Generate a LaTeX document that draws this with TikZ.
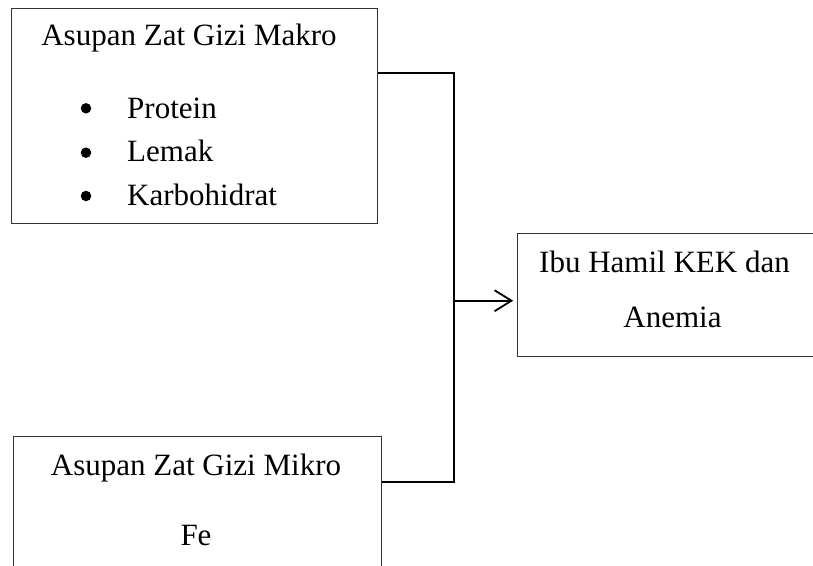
\documentclass[tikz,border=0pt]{standalone}
\usepackage{fontspec}
\setmainfont{Liberation Serif}
\usetikzlibrary{arrows.meta}
\begin{document}
\begin{tikzpicture}[x=1pt,y=-1pt,
  box/.style={draw=black!80,line width=1.1pt,inner sep=0pt,anchor=north west},
  lbl/.style={inner sep=0pt,anchor=base,font=\fontsize{31}{37}\selectfont},
  lblw/.style={inner sep=0pt,anchor=base west,font=\fontsize{31}{37}\selectfont},
  dot/.style={circle,fill=black,inner sep=0pt,minimum size=10.5pt},
  conn/.style={draw=black,line width=1.8pt},
  arr/.style={conn,-{Straight Barb[length=17pt,width=21pt,line width=1.8pt]}}]
\useasboundingbox (0,0) rectangle (813,565);
\clip (0,0) rectangle (813,565);
% boxes
\node[box,minimum width=366pt,minimum height=215pt] (makro) at (11,8) {};
\node[box,minimum width=368pt,minimum height=200pt] (mikro) at (12.7,435.7) {};
\node[box,minimum width=400pt,minimum height=123.3pt] (hasil) at (516.7,232.7) {};
% texts
\node[lbl] (t1) at (189,45.5) {Asupan Zat Gizi Makro};
\node[dot] (b1) at (86,108.3) {};
\node[dot] (b2) at (86,152.7) {};
\node[dot] (b3) at (86,196) {};
\node[lblw] (p1) at (127,118.3) {Protein};
\node[lblw] (p2) at (127,161.7) {Lemak};
\node[lblw] (p3) at (127,205) {Karbohidrat};
\node[lbl] (t2) at (196,475) {Asupan Zat Gizi Mikro};
\node[lbl] (fe) at (196,545) {Fe};
\node[lbl] (h1) at (664.5,272.7) {Ibu Hamil KEK dan};
\node[lbl] (h2) at (672.5,327) {Anemia};
% connectors
\coordinate (jt) at (454,73);
\coordinate (jb) at (454,482);
\coordinate (jm) at (454,300.7);
\draw[conn] (jt -| makro.east) -- (jt) -- (jb) -- (jb -| mikro.east);
\draw[arr,shorten >=3.5pt] (jm) -- (jm -| hasil.west);
\end{tikzpicture}
\end{document}
